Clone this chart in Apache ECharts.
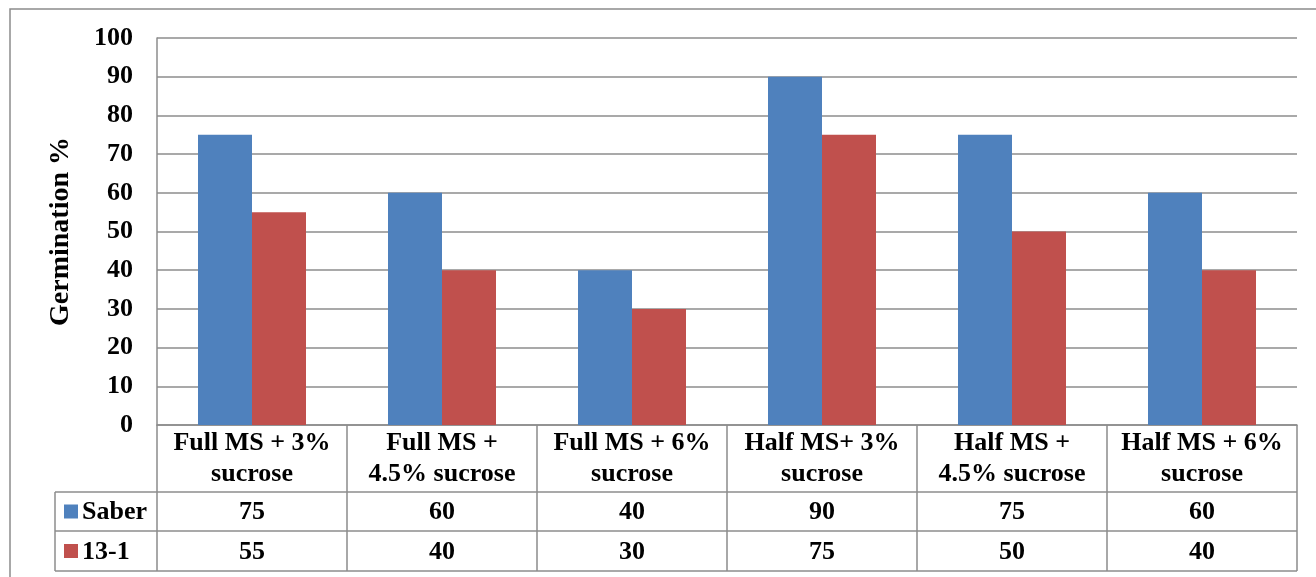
<!DOCTYPE html>
<html>
<head>
<meta charset="utf-8">
<script src="https://cdn.jsdelivr.net/npm/echarts@6/dist/echarts.min.js"></script>
<style>
html,body{margin:0;padding:0;background:#fff;}
#chart{width:1316px;height:577px;}
</style>
</head>
<body>
<div id="chart"></div>
<script>
// ---- data ----
const categories = ['Full MS + 3%\nsucrose', 'Full MS +\n4.5% sucrose', 'Full MS + 6%\nsucrose', 'Half MS+ 3%\nsucrose', 'Half MS +\n4.5% sucrose', 'Half MS + 6%\nsucrose'];
const seriesNames = ['Saber', '13-1'];
const saberValues = [75, 60, 40, 90, 75, 60];
const line131Values = [55, 40, 30, 75, 50, 40];
const yAxisTitle = 'Germination %';

// ---- style ----
const FONT = "'Liberation Serif', 'Times New Roman', serif";
const GRAY = '#8c8c8c';
const COLORS = ['#4F81BD', '#C0504D'];
const ROW_HEADER = 67, ROW1 = 39, ROW2 = 40;
const TABLE_LEFT = 55;
const FS = 26;

const chart = echarts.init(document.getElementById('chart'), null, {renderer: 'canvas'});

const option = {
  animation: false,
  backgroundColor: '#fff',
  grid: {left: 157, right: 19, top: 38, bottom: 152, containLabel: false},
  xAxis: {
    type: 'category',
    data: categories,
    axisLine: {show: true, lineStyle: {color: GRAY, width: 1.5}},
    axisTick: {show: true, alignWithLabel: false, interval: 0, length: ROW_HEADER + ROW1 + ROW2, lineStyle: {color: GRAY, width: 1.5}},
    axisLabel: {interval: 0, margin: 3, color: '#000', fontFamily: FONT, fontWeight: 'bold', fontSize: FS, lineHeight: 31},
    splitLine: {show: false}
  },
  yAxis: {
    type: 'value',
    min: 0, max: 100, interval: 10,
    name: yAxisTitle,
    nameLocation: 'middle',
    nameRotate: 90,
    nameGap: 82,
    nameTextStyle: {color: '#000', fontFamily: FONT, fontWeight: 'bold', fontSize: 28},
    axisLine: {show: true, lineStyle: {color: GRAY, width: 1.5}},
    axisTick: {show: false},
    axisLabel: {margin: 24, color: '#000', fontFamily: FONT, fontWeight: 'bold', fontSize: FS},
    splitLine: {show: true, lineStyle: {color: GRAY, width: 1.5}}
  },
  series: [
    {name: seriesNames[0], type: 'bar', data: saberValues, barWidth: 54, barGap: '0%', itemStyle: {color: COLORS[0]}},
    {name: seriesNames[1], type: 'bar', data: line131Values, barWidth: 54, barGap: '0%', itemStyle: {color: COLORS[1]}}
  ]
};
chart.setOption(option);

// ---- data table below the axis, positioned from the chart's own scales ----
function buildTable() {
  const rect = chart.getModel().getComponent('grid').coordinateSystem.getRect();
  const right = rect.x + rect.width;
  const bottom = rect.y + rect.height;
  const y1 = bottom + ROW_HEADER;
  const y2 = y1 + ROW1;
  const y3 = y2 + ROW2;
  const g = [];
  // outer chart-area border
  g.push({type: 'rect', silent: true, shape: {x: 10, y: 9, width: 1400, height: 700}, style: {fill: 'none', stroke: GRAY, lineWidth: 1.5}});
  // horizontal table lines
  [y1, y2, y3].forEach(y => g.push({type: 'line', silent: true, shape: {x1: TABLE_LEFT, y1: y, x2: right, y2: y}, style: {stroke: GRAY, lineWidth: 1.5}}));
  // left vertical
  g.push({type: 'line', silent: true, shape: {x1: TABLE_LEFT, y1: y1, x2: TABLE_LEFT, y2: y3}, style: {stroke: GRAY, lineWidth: 1.5}});
  // legend keys and names
  const rowsData = [saberValues, line131Values];
  const rowCenters = [(y1 + y2) / 2, (y2 + y3) / 2];
  seriesNames.forEach((n, i) => {
    g.push({type: 'rect', silent: true, shape: {x: TABLE_LEFT + 9, y: rowCenters[i] - 7, width: 14, height: 14}, style: {fill: COLORS[i]}});
    g.push({type: 'text', silent: true, x: TABLE_LEFT + 27, y: rowCenters[i] + 1,
      style: {text: n, fill: '#000', font: 'bold ' + FS + 'px ' + FONT, textAlign: 'left', textVerticalAlign: 'middle'}});
  });
  // values
  rowsData.forEach((arr, r) => {
    arr.forEach((v, i) => {
      const x = chart.convertToPixel({xAxisIndex: 0}, i);
      g.push({type: 'text', silent: true, x: x, y: rowCenters[r] + 1,
        style: {text: String(v), fill: '#000', font: 'bold ' + FS + 'px ' + FONT, textAlign: 'center', textVerticalAlign: 'middle'}});
    });
  });
  chart.setOption({graphic: g});
}
buildTable();
</script>
</body>
</html>
